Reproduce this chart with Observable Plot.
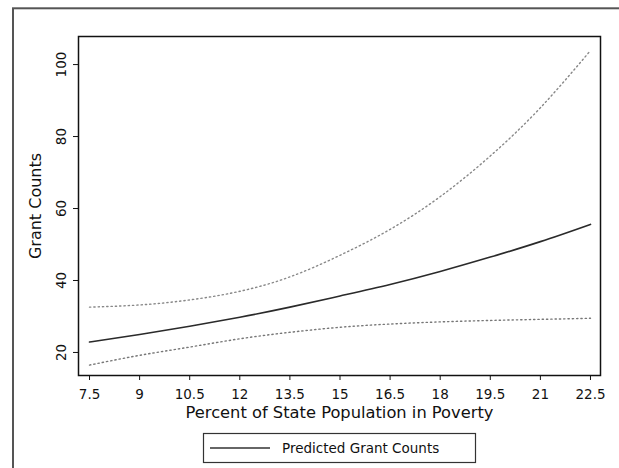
<!DOCTYPE html>
<html>
<head>
<meta charset="utf-8">
<script src="https://cdn.jsdelivr.net/npm/d3@7"></script>
<script src="https://cdn.jsdelivr.net/npm/@observablehq/plot@0.6"></script>
<style>
  html, body { margin: 0; padding: 0; background: #fff; }
  #chart svg { display: block; }
</style>
</head>
<body>
<div id="chart"></div>
<script>
// Percent of state population in poverty (x positions of the fitted values)
const poverty = [7.5, 9, 10.5, 12, 13.5, 15, 16.5, 18, 19.5, 21, 22.5];
// Predicted grant counts and the upper / lower confidence bounds
const predicted = [22.9, 25.0, 27.3, 29.8, 32.6, 35.7, 38.9, 42.5, 46.5, 50.8, 55.6];
const upperBound = [32.6, 33.2, 34.6, 37.0, 41.0, 47.0, 54.2, 63.3, 74.6, 88.0, 103.9];
const lowerBound = [16.5, 19.2, 21.5, 23.8, 25.6, 27.0, 27.9, 28.5, 28.9, 29.2, 29.5];

const xTicks = [7.5, 9, 10.5, 12, 13.5, 15, 16.5, 18, 19.5, 21, 22.5];
const yTicks = [20, 40, 60, 80, 100];

const xTitle = "Percent of State Population in Poverty";
const yTitle = "Grant Counts";
const legendLabel = "Predicted Grant Counts";

const rows = (ys) => poverty.map((x, i) => ({x, y: ys[i]}));

const font = "DejaVu Sans, sans-serif";

const chart = Plot.plot({
  width: 619,
  height: 468,
  marginLeft: 78,
  marginTop: 36,
  marginRight: 19,
  marginBottom: 93,
  style: `font-family: ${font}; font-size: 13.5px; color: #111; background: #fff;`,
  x: {domain: [7.17, 22.8]},
  y: {domain: [13.6, 107.8]},
  marks: [
    Plot.axisX({ticks: xTicks, tickSize: 5, tickPadding: 9, label: null, tickFormat: d => String(d)}),
    Plot.axisY({ticks: yTicks, tickSize: 5, label: null, tickFormat: () => ""}),
    // rotated y tick labels, centred on their ticks
    Plot.text(yTicks, {y: d => d, frameAnchor: "left", textAnchor: "middle", dx: -17, rotate: -90, text: d => String(d), fill: "#111", fontSize: 13.5}),
    Plot.text([yTitle], {frameAnchor: "left", textAnchor: "middle", dx: -43, rotate: -90, fill: "#111", fontSize: 16}),
    Plot.text([xTitle], {frameAnchor: "bottom", dy: 42, fill: "#111", fontSize: 16.3}),
    Plot.line(rows(upperBound), {x: "x", y: "y", curve: "natural", stroke: "#888", strokeWidth: 1.4, strokeDasharray: "1.3,3"}),
    Plot.line(rows(lowerBound), {x: "x", y: "y", curve: "natural", stroke: "#777", strokeWidth: 1.4, strokeDasharray: "1.3,3"}),
    Plot.line(rows(predicted), {x: "x", y: "y", curve: "natural", stroke: "#2a2a2a", strokeWidth: 1.6}),
    Plot.frame({stroke: "#111", strokeWidth: 1.5})
  ]
});

// outer border and legend box
const svg = d3.select(chart);
svg.insert("rect", ":first-child")
  .attr("x", 13).attr("y", 8.3).attr("width", 700).attr("height", 600)
  .attr("fill", "none").attr("stroke", "#555").attr("stroke-width", 2);

const legend = svg.append("g");
legend.append("rect")
  .attr("x", 203.5).attr("y", 433.5).attr("width", 272).attr("height", 29)
  .attr("fill", "#fff").attr("stroke", "#333").attr("stroke-width", 1.2);
legend.append("line")
  .attr("x1", 210).attr("x2", 270).attr("y1", 448).attr("y2", 448)
  .attr("stroke", "#333").attr("stroke-width", 1.5);
legend.append("text")
  .attr("x", 282).attr("y", 448).attr("dy", "0.35em")
  .attr("text-anchor", "start")
  .attr("font-size", 13.5)
  .attr("fill", "#111")
  .text(legendLabel);

document.getElementById("chart").appendChild(chart);
</script>
</body>
</html>
